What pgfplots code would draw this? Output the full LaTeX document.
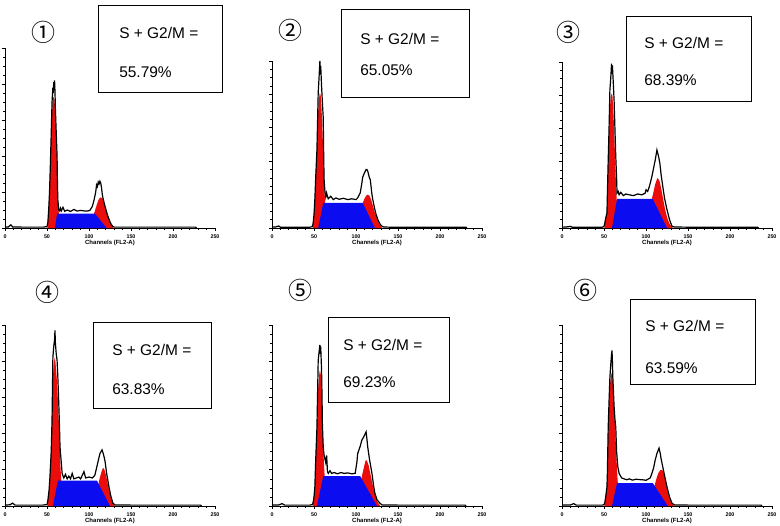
\documentclass[border=0pt]{standalone}
\usepackage{pgfplots}
\pgfplotsset{compat=1.18}
\usepackage{fontspec}
\setmainfont{Liberation Sans}
\newfontfamily\circfont{Noto Sans CJK SC}
\definecolor{g1red}{RGB}{235,12,12}
\definecolor{sblue}{RGB}{12,12,240}
\pgfplotsset{
  facs/.style={
    scale only axis, width=157.5pt, anchor=south west,
    xmin=0, xmax=250, ymin=0, ymax=100,
    axis x line*=bottom, axis y line*=left,
    xtick={0,50,...,250}, minor x tick num=4,
    ytick={0,20,...,100}, minor y tick num=3, yticklabels={},
    tick align=outside, major tick length=2.2pt, minor tick length=1.2pt,
    tick style={black, line width=0.5pt},
    axis line style={black, line width=0.6pt},
    /pgf/number format/assume math mode=true,
    xticklabel style={font=\fontsize{4}{4}\selectfont\bfseries, yshift=1pt},
    xlabel={Channels (FL2-A)},
    xlabel style={font=\fontsize{4.5}{5}\selectfont\bfseries, yshift=5pt},
    clip=false,
  },
  outl/.style={black, line width=0.9pt, sharp plot},
  redf/.style={fill=g1red, draw=none},
  bluef/.style={fill=sblue, draw=none},
}
\begin{document}
\begin{tikzpicture}
\useasboundingbox (0,0) rectangle (585pt,-393.75pt);

% ---------- Panel 1 ----------
\begin{axis}[facs, height=135pt, at={(3.75pt,-171pt)}]
\addplot[redf] coordinates {(50.5,0) (51,3) (52,10) (53,20) (54,35) (55,50) (56,64) (57,72) (58,73) (59,71) (60,63) (61,50) (62,36) (63,15) (64,9) (65,5) (66,2.5) (68,0.5) (70,0)} \closedcycle;
\addplot[redf] coordinates {(98,0.8) (102,3) (106,8) (108,11) (110,14) (112,16.3) (114,17) (116,16.5) (118,13.5) (120,10.3) (122,7) (124,4.5) (126,2.2) (128,0.8) (129,0)} \closedcycle;
\addplot[bluef] coordinates {(59.5,0) (62,8) (107,8) (121,0)} \closedcycle;
\addplot[outl] coordinates {(0,0.5) (4,0.6) (7,1.8) (9,0.6) (20,0.5) (46,0.5) (50,0.8) (51,3) (52,10) (53,20) (54,35) (55,52) (56,70) (57,78) (57.5,75) (58,81) (58.5,79) (59,82) (59.5,76) (60,66) (61,53) (62,40) (62.5,23) (63,15) (64,10) (65,9.5) (66,11) (67,9.5) (69,11.5) (71,9.3) (74,10) (78,9.2) (82,10.3) (86,9.4) (90,9.8) (94,9.5) (98,9.4) (101,9.8) (104,12) (106,15.5) (108,20) (109,24) (110,23) (111,25.5) (112,24.5) (113,26) (114,25) (115,22) (116,18) (118,14) (120,10.5) (122,7.2) (124,4.7) (126,2.4) (128,1) (130,0.5) (227,0.5) (228,0)};
\end{axis}

% ---------- Panel 2 ----------
\begin{axis}[facs, height=125.25pt, at={(204pt,-171pt)}]
\addplot[redf] coordinates {(48.5,0) (49,3) (50,8) (51,17) (52,30) (53.5,46) (55,70) (56,78) (57,81) (58,79) (59,71) (60,60) (61,44) (62,28) (63,17) (64,10) (65,5) (67,2) (69,0)} \closedcycle;
\addplot[redf] coordinates {(98,2.5) (102,6.5) (106,12.5) (108,15) (110,17.5) (112,19.3) (114,20) (116,19.3) (118,17) (120,13.5) (122,10) (124,7) (126,4.2) (128,2) (130,0.8) (131,0)} \closedcycle;
\addplot[bluef] coordinates {(55,0) (61,15) (108,15) (122.5,0)} \closedcycle;
\addplot[outl] coordinates {(0,0.5) (4,0.6) (8,1.2) (10,0.5) (45,0.5) (48,0.8) (49,3) (50,8) (51,17) (52,30) (53.5,47) (55,81) (56,90) (57,100) (57.5,92) (58,97) (59,85) (60,75) (61,66) (61.5,45) (62,29) (63,22) (64,18.5) (65,21) (66,19) (67,17.5) (70,19) (73,17) (76,18) (80,17.2) (85,17.8) (90,17) (95,17.5) (100,17) (102,18) (105,21) (107,27) (108,30.5) (110,33) (112,35) (113,35) (114,34) (116,30) (117,29) (119,20) (120,17) (122,12) (124,8) (126,5) (129,2) (131,1) (133,0.6) (140,0.5) (231,0.5) (232,0)};
\end{axis}

% ---------- Panel 3 ----------
\begin{axis}[facs, height=124.5pt, at={(421.5pt,-171pt)}]
\addplot[redf] coordinates {(50.5,0) (51,3) (52,6) (53.5,9) (54,18) (55,38) (56,55) (57,72) (58,79) (59,81) (60,80) (61,72) (62,60) (63,45) (64,30) (65,18) (66,10) (68,4) (70,1) (72,0)} \closedcycle;
\addplot[redf] coordinates {(96,1) (100,4.5) (104,11) (107,17.5) (109,22) (111,26.5) (113,29.5) (114,30) (116,28.5) (118,24) (120,18.5) (122,13) (124,8.5) (126,5) (128,2.6) (130,1.2) (132,0)} \closedcycle;
\addplot[bluef] coordinates {(59.5,0) (65.5,17.5) (108,17.5) (125,0)} \closedcycle;
\addplot[outl] coordinates {(0,0.5) (5,0.6) (10,1.0) (12,0.5) (48,0.5) (50,1) (51,3) (52,6) (53.5,9) (54,20) (55,41) (56,60) (57,83) (58,90) (59,99) (59.5,93) (60,98) (61,88) (62,77) (63,60) (64,43) (65,30) (65.5,21) (67,22) (68,20) (70,21.5) (73,19.5) (76,20.5) (80,20) (85,19.5) (90,20.5) (95,20) (99,21) (100,23) (102,22) (104,25) (107,31) (109,36) (111,41) (112,44) (113,47) (114,45) (115,43) (116.5,39) (118,32) (120,25) (122,18) (125,11) (128,5) (131,1) (134,0.6) (150,0.5) (233,0.5) (234,0)};
\end{axis}

% ---------- Panel 4 ----------
\begin{axis}[facs, height=135.75pt, at={(3.75pt,-379.5pt)}]
\addplot[redf] coordinates {(50.5,0) (51,3) (52.5,9) (53.5,16) (55,30) (56,47) (57,70) (58,78) (59,82) (60,80) (61,74) (62,68) (63,58) (64,47) (65,35) (65.5,28) (66,22) (67,14) (68,8) (70,3) (72,0)} \closedcycle;
\addplot[redf] coordinates {(104,1) (107,3.5) (109,7) (111,11) (112,14) (114,17.5) (116,20.5) (117,21) (118,20.5) (120,17.5) (122,13) (124,8.5) (126,4.5) (128,2) (130,0.5) (131,0)} \closedcycle;
\addplot[bluef] coordinates {(57,0) (63,14) (109.5,14) (125,0)} \closedcycle;
\addplot[outl] coordinates {(0,0.5) (6,0.7) (9,1.6) (12,0.5) (45,0.5) (50,0.8) (51,3) (52.5,9) (53.5,16) (55,30) (56,47.5) (57,82) (58,88) (59,92) (59.5,97) (60,90) (61,84) (62,80.5) (63,70) (64,57) (65,42) (65.5,32.5) (67,24) (68,18) (70,15.5) (72,17.5) (74,15) (76,16.5) (78,15) (80,18) (82,15) (85,15.5) (88,16) (90,15) (94,19) (96,15.5) (100,16) (104,15.5) (107,17) (109,21) (111,25) (113,29) (115.5,31) (117,29) (119,25) (121,18) (122.5,14) (124,10) (126,5.5) (128.5,1.5) (131,0.6) (150,0.5) (233,0.5) (234,0)};
\end{axis}

% ---------- Panel 5 ----------
\begin{axis}[facs, height=135.75pt, at={(204pt,-379.5pt)}]
\addplot[redf] coordinates {(48.5,0) (49,2) (50,5) (51,10.5) (52,24) (53.5,42) (55,65) (56,72) (57,75) (58,73) (59,66) (59.5,58) (60,44) (61,32) (62,22) (63,14) (64,8) (66,3) (68,1) (70,0)} \closedcycle;
\addplot[redf] coordinates {(100,2) (103,6) (105,10.5) (107,16.5) (109,20.5) (111,24.5) (112,25.5) (113,25) (115,22.5) (117,18) (119,13.5) (121,9) (123,5.5) (125,3) (127,1.2) (129,0)} \closedcycle;
\addplot[bluef] coordinates {(53.5,0) (61,16.5) (105,16.5) (125,0)} \closedcycle;
\addplot[outl] coordinates {(0,0.5) (8,0.6) (12,1.3) (15,0.5) (45,0.5) (48,0.8) (49,2) (50,5) (51,10.5) (52,25) (53.5,43.5) (55,80.5) (56,85) (57,89) (57.5,84) (58,88) (59,75) (59.5,62) (60,45) (61,32.5) (62,28) (63,26) (64,24) (65,28) (65.5,24) (66,19) (67,18) (69,19.5) (71,18) (74,18.5) (78,17.8) (82,18.5) (86,18) (90,18.3) (95,17.8) (99,18) (101,24) (102,29) (105,33) (107,36.5) (109,38) (111,40) (112,41) (113,37) (114,32.5) (116,26) (119,18) (121,11) (122.5,7) (125,3.5) (128.5,1.5) (131,0.6) (150,0.5) (230,0.5) (231,0)};
\end{axis}

% ---------- Panel 6 ----------
\begin{axis}[facs, height=135.75pt, at={(421.5pt,-379.5pt)}]
\addplot[redf] coordinates {(50.5,0) (51,2) (52,5) (53.5,10) (54,17) (55,40) (56,55) (57,66) (58,71) (59,73.5) (60,72) (61,64) (62,54) (63,45) (64,35) (65,25) (66,16) (67,9) (69,3) (71,1) (73,0)} \closedcycle;
\addplot[redf] coordinates {(104,3) (107,6.5) (109,9.5) (111,12.7) (113,16) (115,18.5) (117,19.8) (118.5,20) (120,19.5) (122,16.5) (124,11.5) (126,7.5) (128,4) (130,2) (132,0.8) (134,0)} \closedcycle;
\addplot[bluef] coordinates {(59.5,0) (65.5,12.7) (108,12.7) (126,0)} \closedcycle;
\addplot[outl] coordinates {(0,0.5) (10,0.6) (14,1.3) (17,0.5) (48,0.5) (50,0.8) (51,2) (52,5) (53.5,10.5) (54,18) (55,43.5) (56,58) (57,71) (58,78) (59,84) (59.5,86) (60,80) (60.5,71) (61,66) (62,55) (63,48) (64,43.5) (65,30) (66.5,21.5) (68,18) (71,15.5) (74,15) (77,14.5) (80,15) (84,14.3) (88,14.8) (92,14.6) (96,14.5) (100,14.2) (103,15) (105,15.5) (107,18) (109,21) (111,25.5) (113,29) (115.5,32) (117,29) (118,26) (120,21.5) (122,17) (125,10.5) (128,5) (131,1.5) (134,0.6) (150,0.5) (237,0.5) (238,0)};
\end{axis}

% ---------- labels, boxes ----------
\begin{scope}[x=0.75pt, y=-0.75pt]
\tikzset{circ/.style={font=\circfont\fontsize{18}{18}\selectfont, inner sep=0pt},
         btxt/.style={anchor=west, inner sep=0pt, font=\fontsize{11.6}{12}\selectfont},
         bx/.style={draw=black, line width=0.75pt}}
\node[circ] at (43,32) {①};
\node[circ] at (290,30) {②};
\node[circ] at (568,32) {③};
\node[circ] at (47,292) {④};
\node[circ] at (300,290) {⑤};
\node[circ] at (585,290) {⑥};

\draw[bx] (98,5) rectangle (222,92);
\node[btxt] at (119,33) {S + G2/M =};
\node[btxt] at (119,72) {55.79\%};

\draw[bx] (341,9) rectangle (469,97);
\node[btxt] at (360,39) {S + G2/M =};
\node[btxt] at (360,70) {65.05\%};

\draw[bx] (626,16) rectangle (751,101);
\node[btxt] at (644,43) {S + G2/M =};
\node[btxt] at (644,80) {68.39\%};

\draw[bx] (93,322) rectangle (211,408);
\node[btxt] at (112,350) {S + G2/M =};
\node[btxt] at (112,389) {63.83\%};

\draw[bx] (328,317) rectangle (449,402);
\node[btxt] at (343,345) {S + G2/M =};
\node[btxt] at (343,382) {69.23\%};

\draw[bx] (630,299) rectangle (755,384);
\node[btxt] at (645,326) {S + G2/M =};
\node[btxt] at (645,368) {63.59\%};
\end{scope}
\end{tikzpicture}
\end{document}
